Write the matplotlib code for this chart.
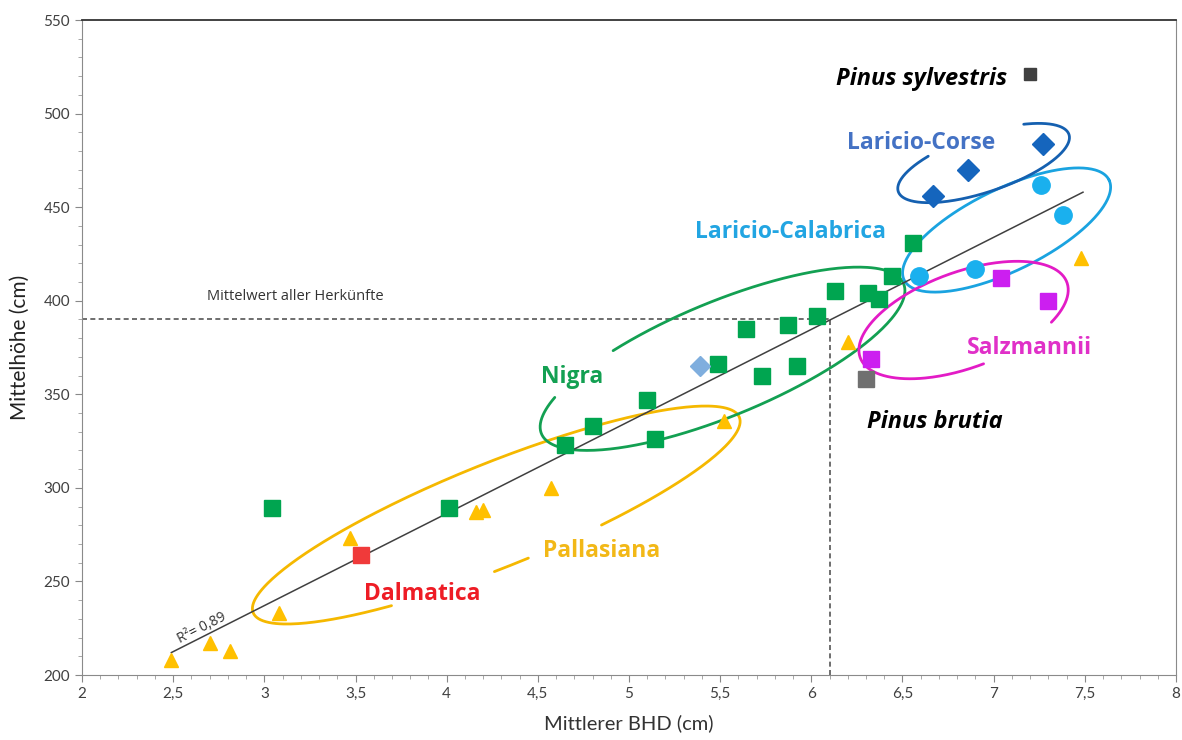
import matplotlib.pyplot as plt
import numpy as np
from matplotlib.ticker import MultipleLocator, FuncFormatter

plt.rcParams['font.family'] = ['Lato', 'DejaVu Sans']

# Pallasiana (triangles)
pal_x = [2.49, 2.70, 2.81, 3.08, 3.47, 4.16, 4.20, 4.57, 5.52, 6.20, 7.48]
pal_y = [208, 217, 213, 233, 273, 287, 288, 300, 336, 378, 423]
# Nigra (green squares)
nig_x = [3.04, 4.01, 4.65, 4.80, 5.10, 5.14, 5.49, 5.64, 5.73, 5.87, 5.92, 6.03, 6.13, 6.31, 6.37, 6.44, 6.56]
nig_y = [289, 289, 323, 333, 347, 326, 366, 385, 360, 387, 365, 392, 405, 404, 401, 413, 431]
# single provenances
dal_x, dal_y = [3.53], [264]
hell_x, hell_y = [5.39], [365]
bru_x, bru_y = [6.30], [358]
syl_x, syl_y = [7.20], [521]
# Salzmannii
sal_x = [6.33, 7.04, 7.30]
sal_y = [369, 412, 400]
# Laricio-Calabrica
cal_x = [6.59, 6.90, 7.26, 7.38]
cal_y = [413, 417, 462, 446]
# Laricio-Corse
cor_x = [6.67, 6.86, 7.27]
cor_y = [456, 470, 484]

mean_height = 390
mean_bhd = 6.1
reg_x = [2.49, 7.49]
reg_slope, reg_icpt = 49.2, 89.5

x_ticks = np.arange(2, 8.01, 0.5)

fig = plt.figure(figsize=(11.82, 7.40), dpi=100)
ax = fig.add_axes([0.0694, 0.0878, 0.9255, 0.8851])
ax.set_xlim(2, 8)
ax.set_ylim(200, 550)


def loop(cx, cy, a, b, ang, t0, t1, color, lw=2.0):
    # hand-drawn style group ellipse, sized in screen pixels around a data point
    c = ax.transData.transform((cx, cy))
    t = np.deg2rad(np.linspace(t0, t1, 300))
    p = np.deg2rad(ang)
    dx = a * np.cos(t) * np.cos(p) - b * np.sin(t) * np.sin(p)
    dy = a * np.cos(t) * np.sin(p) + b * np.sin(t) * np.cos(p)
    pts = ax.transData.inverted().transform(np.column_stack([c[0] + dx, c[1] + dy]))
    ax.plot(pts[:, 0], pts[:, 1], color=color, lw=lw, solid_capstyle='round', zorder=2)


# mean lines
ax.plot([2, mean_bhd], [mean_height, mean_height], ls=(0, (3, 2)), color='#555555', lw=1.2, zorder=1)
ax.plot([mean_bhd, mean_bhd], [200, mean_height], ls=(0, (3, 2)), color='#555555', lw=1.2, zorder=1)
ax.text(2.686, 400.4, 'Mittelwert aller Herkünfte', fontsize=10.5, family=['Open Sans', 'DejaVu Sans'],
        color='#333333', va='baseline')

# regression line
rx = np.array(reg_x)
ax.plot(rx, reg_slope * rx + reg_icpt, color='#404040', lw=1.1, zorder=3)
ax.text(2.66, 225, 'R²= 0,89', fontsize=10, family=['Open Sans', 'DejaVu Sans'], color='#333333',
        rotation=27, ha='center', va='center')

# ellipses
loop(4.272, 285.5, 262, 52, 21.9, 291, 600, '#F5B800')
loop(4.272, 285.5, 262, 52, 21.9, 265, 273, '#F5B800')
loop(5.513, 369.0, 196, 57, 22.5, 150, 480, '#13A052')
loop(7.071, 437.8, 114, 41, 26.0, 0, 360, '#1AA3E0')
loop(6.945, 473.6, 90, 29, 18.5, 124, 416, '#1560B0')
loop(6.835, 389.7, 110, 48, 20.0, -42, 272, '#E31BC6')

# points
ax.plot(pal_x, pal_y, ls='none', marker='^', ms=9.5, color='#FFC000', zorder=4)
ax.plot(nig_x, nig_y, ls='none', marker='s', ms=11, color='#00A550', zorder=4)
ax.plot(dal_x, dal_y, ls='none', marker='s', ms=11, color='#F03A3A', zorder=4)
ax.plot(hell_x, hell_y, ls='none', marker='D', ms=10, color='#7FAEDE', zorder=4)
ax.plot(bru_x, bru_y, ls='none', marker='s', ms=11, color='#707070', zorder=4)
ax.plot(syl_x, syl_y, ls='none', marker='s', ms=9, color='#404040', zorder=4)
ax.plot(sal_x, sal_y, ls='none', marker='s', ms=11, color='#CC1FF0', zorder=4)
ax.plot(cal_x, cal_y, ls='none', marker='o', ms=12.5, color='#1AB0EE', zorder=4)
ax.plot(cor_x, cor_y, ls='none', marker='D', ms=11, color='#1565BD', zorder=4)

# group labels
lab = dict(fontsize=16.5, fontweight='bold', family=['Open Sans', 'DejaVu Sans'], ha='center', va='baseline')
ax.text(6.605, 515.3, 'Pinus sylvestris', color='black', **dict(lab, style='italic', fontsize=17))
ax.text(6.60, 481.1, 'Laricio-Corse', color='#4472C4', **lab)
ax.text(5.886, 433.6, 'Laricio-Calabrica', color='#22A5E2', **lab)
ax.text(4.689, 356.1, 'Nigra', color='#13A052', **lab)
ax.text(7.197, 371.6, 'Salzmannii', color='#E030C8', **lab)
ax.text(6.679, 332.0, 'Pinus brutia', color='black', **dict(lab, style='italic', fontsize=17))
ax.text(3.866, 240.1, 'Dalmatica', color='#EE1C25', **lab)
ax.text(4.851, 263.1, 'Pallasiana', color='#F2B817', **lab)

# axes
ax.set_xticks(x_ticks)
ax.xaxis.set_major_formatter(FuncFormatter(lambda v, p: ('%g' % v).replace('.', ',')))
ax.xaxis.set_minor_locator(MultipleLocator(0.1))
ax.yaxis.set_major_locator(MultipleLocator(50))
ax.yaxis.set_minor_locator(MultipleLocator(10))
ax.tick_params(which='major', length=5, color='#888888', labelsize=11, labelcolor='#404040')
ax.tick_params(which='minor', length=3, color='#999999')
for s in ax.spines.values():
    s.set_color('#8a8a8a')
ax.spines['top'].set_color('#333333')
ax.spines['top'].set_linewidth(1.3)
ax.set_xlabel('Mittlerer BHD (cm)', fontsize=14.5, color='#333333', labelpad=10)
ax.set_ylabel('Mittelhöhe (cm)', fontsize=15, color='#222222', labelpad=10)

plt.savefig('out.png', dpi=100)
